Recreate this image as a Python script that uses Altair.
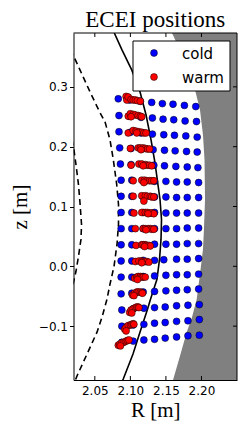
import altair as alt
import pandas as pd

# ---------------- data ----------------
x_ticks = [2.05, 2.10, 2.15, 2.20]
y_ticks = [-0.1, 0.0, 0.1, 0.2, 0.3]
categories = ["cold", "warm"]
cat_colors = ["#0000ff", "#ff0000"]

cold_R = [
    [2.083, 2.099, 2.114, 2.130, 2.145, 2.160, 2.176, 2.192],
    [2.084, 2.099, 2.115, 2.131, 2.146, 2.161, 2.177, 2.193],
    [2.084, 2.100, 2.115, 2.131, 2.147, 2.162, 2.178, 2.194],
    [2.085, 2.101, 2.116, 2.132, 2.148, 2.163, 2.179, 2.194],
    [2.086, 2.101, 2.117, 2.133, 2.148, 2.164, 2.180, 2.195],
    [2.087, 2.102, 2.118, 2.134, 2.150, 2.165, 2.180, 2.196],
    [2.087, 2.102, 2.118, 2.134, 2.150, 2.165, 2.180, 2.196],
    [2.087, 2.102, 2.118, 2.134, 2.150, 2.165, 2.180, 2.196],
    [2.087, 2.102, 2.118, 2.134, 2.150, 2.165, 2.180, 2.196],
    [2.087, 2.102, 2.118, 2.134, 2.150, 2.165, 2.180, 2.196],
    [2.087, 2.102, 2.118, 2.134, 2.147, 2.165, 2.180, 2.196],
    [2.087, 2.102, 2.118, 2.134, 2.150, 2.165, 2.180, 2.196],
    [2.087, 2.102, 2.118, 2.134, 2.150, 2.165, 2.180, 2.196],
    [2.088, 2.104, 2.119, 2.134, 2.149, 2.165, 2.181, 2.197],
    [2.088, 2.104, 2.119, 2.134, 2.149, 2.165, 2.181, 2.197],
    [2.088, 2.104, 2.119, 2.134, 2.149, 2.165, 2.181, 2.197],
]
cold_z = [
    [0.280, 0.278, 0.276, 0.274, 0.272, 0.271, 0.269, 0.267],
    [0.252, 0.251, 0.249, 0.248, 0.246, 0.245, 0.243, 0.242],
    [0.225, 0.224, 0.223, 0.221, 0.220, 0.219, 0.218, 0.216],
    [0.198, 0.197, 0.196, 0.195, 0.194, 0.193, 0.192, 0.191],
    [0.171, 0.170, 0.170, 0.169, 0.168, 0.167, 0.166, 0.165],
    [0.144, 0.144, 0.143, 0.142, 0.142, 0.141, 0.141, 0.140],
    [0.117, 0.117, 0.116, 0.116, 0.116, 0.115, 0.115, 0.115],
    [0.090, 0.090, 0.090, 0.090, 0.089, 0.089, 0.089, 0.089],
    [0.063, 0.063, 0.063, 0.063, 0.063, 0.063, 0.064, 0.064],
    [0.036, 0.036, 0.036, 0.037, 0.037, 0.037, 0.038, 0.038],
    [0.009, 0.009, 0.010, 0.010, 0.011, 0.012, 0.012, 0.013],
    [-0.018, -0.018, -0.017, -0.016, -0.015, -0.014, -0.014, -0.013],
    [-0.046, -0.045, -0.043, -0.042, -0.041, -0.040, -0.039, -0.038],
    [-0.073, -0.071, -0.070, -0.069, -0.068, -0.066, -0.065, -0.064],
    [-0.100, -0.098, -0.097, -0.095, -0.094, -0.092, -0.091, -0.089],
    [-0.127, -0.125, -0.123, -0.122, -0.120, -0.118, -0.116, -0.115],
]

warm_R = [
    [2.094, 2.095, 2.097, 2.101, 2.104, 2.107, 2.110, 2.114],
    [2.097, 2.100, 2.104, 2.107, 2.111, 2.114, 2.116, 2.101],
    [2.097, 2.104, 2.108, 2.112, 2.116, 2.119, 2.122, 2.109],
    [2.100, 2.111, 2.114, 2.118, 2.121, 2.124, 2.127, 2.115],
    [2.101, 2.112, 2.116, 2.121, 2.124, 2.127, 2.130, 2.118],
    [2.104, 2.116, 2.120, 2.123, 2.127, 2.130, 2.133, 2.119],
    [2.104, 2.116, 2.121, 2.124, 2.128, 2.130, 2.133, 2.119],
    [2.105, 2.116, 2.121, 2.124, 2.128, 2.130, 2.133, 2.125],
    [2.107, 2.118, 2.121, 2.125, 2.128, 2.130, 2.133, 2.122],
    [2.108, 2.116, 2.118, 2.121, 2.123, 2.126, 2.128, 2.120],
    [2.107, 2.112, 2.116, 2.118, 2.121, 2.123, 2.126, 2.116],
    [2.106, 2.109, 2.111, 2.114, 2.116, 2.118, 2.121, 2.110],
    [2.103, 2.106, 2.109, 2.111, 2.114, 2.116, 2.117, 2.105],
    [2.099, 2.101, 2.104, 2.107, 2.109, 2.111, 2.112, 2.102],
    [2.092, 2.094, 2.097, 2.100, 2.102, 2.104, 2.105, 2.094],
    [2.083, 2.085, 2.088, 2.091, 2.094, 2.096, 2.098, 2.086],
]
warm_z = [
    [0.284, 0.278, 0.283, 0.279, 0.278, 0.278, 0.277, 0.276],
    [0.251, 0.255, 0.254, 0.253, 0.252, 0.251, 0.250, 0.250],
    [0.223, 0.227, 0.226, 0.225, 0.224, 0.223, 0.223, 0.223],
    [0.197, 0.198, 0.198, 0.198, 0.197, 0.196, 0.196, 0.195],
    [0.169, 0.171, 0.171, 0.170, 0.169, 0.169, 0.168, 0.168],
    [0.143, 0.144, 0.144, 0.143, 0.143, 0.143, 0.143, 0.140],
    [0.117, 0.118, 0.118, 0.117, 0.117, 0.116, 0.116, 0.109],
    [0.089, 0.090, 0.090, 0.090, 0.089, 0.089, 0.088, 0.088],
    [0.063, 0.063, 0.063, 0.063, 0.063, 0.062, 0.062, 0.061],
    [0.035, 0.036, 0.036, 0.036, 0.035, 0.035, 0.034, 0.033],
    [0.008, 0.009, 0.009, 0.008, 0.008, 0.008, 0.007, 0.006],
    [-0.020, -0.018, -0.017, -0.017, -0.018, -0.018, -0.018, -0.022],
    [-0.048, -0.045, -0.043, -0.043, -0.043, -0.044, -0.045, -0.049],
    [-0.077, -0.073, -0.071, -0.069, -0.068, -0.068, -0.069, -0.078],
    [-0.105, -0.102, -0.099, -0.098, -0.097, -0.096, -0.097, -0.108],
    [-0.132, -0.130, -0.128, -0.127, -0.125, -0.124, -0.123, -0.133],
]

# separatrix (solid)
sep_R = [2.0774, 2.0882, 2.1019, 2.1128, 2.1220, 2.1290, 2.1346, 2.1388, 2.1417,
         2.1438, 2.1431, 2.1410, 2.1374, 2.1283, 2.1241, 2.1135, 2.1037, 2.0900, 2.0885]
sep_z = [0.390, 0.3617, 0.3283, 0.295, 0.2533, 0.2117, 0.1733, 0.1367, 0.1117,
         0.0783, 0.045, 0.0117, -0.0217, -0.055, -0.0717, -0.110, -0.1467, -0.1883, -0.192]

# inner flux surface (dashed)
flux1_R = [2.0151, 2.0207, 2.0291, 2.0432, 2.0573, 2.0643, 2.0713, 2.0760, 2.0808,
           2.0833, 2.0833, 2.0812, 2.0770, 2.0713, 2.0671, 2.0601, 2.0531, 2.0390, 2.0249, 2.0221]
flux1_z = [0.3617, 0.350, 0.3283, 0.2917, 0.2567, 0.2417, 0.2117, 0.1783, 0.1367,
           0.1033, 0.070, 0.0367, 0.000, -0.030, -0.055, -0.085, -0.110, -0.1467, -0.1833, -0.1917]

# outer flux surface (dashed, left edge)
flux2_R = [2.0151, 2.0200, 2.0235, 2.0270, 2.0291, 2.0313, 2.0305, 2.0270, 2.0235, 2.0200, 2.0151]
flux2_z = [0.2283, 0.200, 0.170, 0.1367, 0.1067, 0.070, 0.045, 0.0167, -0.0083, -0.0267, -0.055]

# wall / limiter boundary (grey region to the right)
wall_R = [2.1529, 2.1585, 2.1698, 2.1810, 2.1909, 2.1979, 2.2021, 2.2043, 2.2050,
          2.2035, 2.2021, 2.1979, 2.1933, 2.1867, 2.1792, 2.1698, 2.1604, 2.1557]
wall_z = [0.4033, 0.390, 0.3617, 0.3283, 0.295, 0.2617, 0.220, 0.1783, 0.1117,
          0.0617, 0.0283, -0.0133, -0.055, -0.085, -0.110, -0.150, -0.1883, -0.2017]

R_MIN, R_MAX = 2.02, 2.25
Z_MIN, Z_MAX = -0.19, 0.39

# ---------------- tables ----------------
pts = []
for rr, zz in zip(cold_R, cold_z):
    for r, z in zip(rr, zz):
        pts.append({"R": r, "z": z, "type": categories[0]})
for rr, zz in zip(warm_R, warm_z):
    for r, z in zip(rr, zz):
        pts.append({"R": r, "z": z, "type": categories[1]})
pts = pd.DataFrame(pts)


def curve(Rs, zs):
    return pd.DataFrame({"R": Rs, "z": zs, "i": list(range(len(Rs)))})


wall_df = pd.DataFrame({"R": wall_R, "z": wall_z, "R2": [R_MAX + 0.01] * len(wall_R)})

W, H = 163.5, 347

xs = alt.Scale(domain=[R_MIN, R_MAX], nice=False, zero=False)
ys = alt.Scale(domain=[Z_MIN, Z_MAX], nice=False, zero=False)
fill_scale = alt.Scale(domain=categories, range=cat_colors)

x_enc = alt.X("R:Q", scale=xs, title="R [m]",
              axis=alt.Axis(values=x_ticks, format=".2f", grid=False, ticks=False,
                            tickSize=0, labelPadding=5, domain=True, domainColor="black",
                            domainWidth=1, zindex=1, titlePadding=3))
y_enc = alt.Y("z:Q", scale=ys, title="z [m]",
              axis=alt.Axis(values=y_ticks, format=".1f", grid=False, ticks=True,
                            tickSize=4, tickColor="black", labelPadding=2, domain=True,
                            domainColor="black", domainWidth=1, zindex=1, titlePadding=8))

wall = alt.Chart(wall_df).mark_area(
    orient="horizontal", color="#808080", opacity=1, clip=True
).encode(y=y_enc, x=x_enc, x2="R2:Q")

flux1 = alt.Chart(curve(flux1_R, flux1_z)).mark_line(
    color="black", strokeWidth=1.6, strokeDash=[6, 4], clip=True
).encode(x=x_enc, y=y_enc, order=alt.Order("i:Q"))

flux2 = alt.Chart(curve(flux2_R, flux2_z)).mark_line(
    color="black", strokeWidth=1.6, strokeDash=[6, 4], clip=True
).encode(x=x_enc, y=y_enc, order=alt.Order("i:Q"))

sep = alt.Chart(curve(sep_R, sep_z)).mark_line(
    color="black", strokeWidth=1.6, clip=True
).encode(x=x_enc, y=y_enc, order=alt.Order("i:Q"))

points = alt.Chart(pts).mark_circle(
    size=48, opacity=1, stroke="black", strokeWidth=0.5, clip=True
).encode(
    x=x_enc, y=y_enc,
    fill=alt.Fill("type:N", scale=fill_scale, legend=None),
)

xt = pd.DataFrame({"R": x_ticks})
yt = pd.DataFrame({"z": y_ticks})
tick_bottom = alt.Chart(xt).mark_rule(color="black", strokeWidth=1).encode(
    x=x_enc, y=alt.value(H), y2=alt.value(H - 4))
tick_top = alt.Chart(xt).mark_rule(color="black", strokeWidth=1).encode(
    x=x_enc, y=alt.value(0), y2=alt.value(4))
tick_right = alt.Chart(yt).mark_rule(color="black", strokeWidth=1).encode(
    y=y_enc, x=alt.value(W), x2=alt.value(W - 4))

frame = pd.DataFrame({"R": [R_MAX]})
frame_right = alt.Chart(frame).mark_rule(color="black", strokeWidth=1).encode(
    x=x_enc, y=alt.value(0), y2=alt.value(H))
frame_t = pd.DataFrame({"z": [Z_MAX]})
frame_top = alt.Chart(frame_t).mark_rule(color="black", strokeWidth=1).encode(
    y=y_enc, x=alt.value(0), x2=alt.value(W))

# ---------------- legend box (matplotlib style, upper right) ----------------
leg_box = alt.Chart(pd.DataFrame({"k": [0]})).mark_rect(
    fill="white", stroke="black", strokeWidth=1
).encode(x=alt.value(59.5), x2=alt.value(156.5), y=alt.value(8), y2=alt.value(58))

leg_layers = [leg_box]
for cat, ly in zip(categories, [20, 44]):
    d = pd.DataFrame({"type": [cat]})
    leg_layers.append(
        alt.Chart(d).mark_circle(size=48, opacity=1, stroke="black", strokeWidth=0.5).encode(
            x=alt.value(80.5), y=alt.value(ly),
            fill=alt.Fill("type:N", scale=fill_scale, legend=None))
    )
    leg_layers.append(
        alt.Chart(d).mark_text(align="left", baseline="middle", font="DejaVu Sans",
                               fontSize=15, color="black").encode(
            x=alt.value(108.5), y=alt.value(ly + 1), text="type:N")
    )

chart = alt.layer(
    wall, flux2, flux1, sep, points, tick_bottom, tick_top, tick_right,
    frame_right, frame_top, *leg_layers
).properties(
    width=W, height=H,
    title=alt.TitleParams("ECEI positions", font="Liberation Serif", fontSize=23,
                          fontWeight="normal", color="black", anchor="middle", offset=1),
    padding={"left": 65.5, "top": 25, "right": 4, "bottom": 48},
    autosize=alt.AutoSizeParams(type="none"),
).configure_axis(
    labelFont="DejaVu Sans", labelFontSize=12, labelColor="black",
    titleFont="Liberation Serif", titleFontSize=21, titleFontWeight="normal",
    titleColor="black",
).configure_view(stroke=None)

chart.save("out.html", embed_options={"renderer": "svg", "actions": False})
